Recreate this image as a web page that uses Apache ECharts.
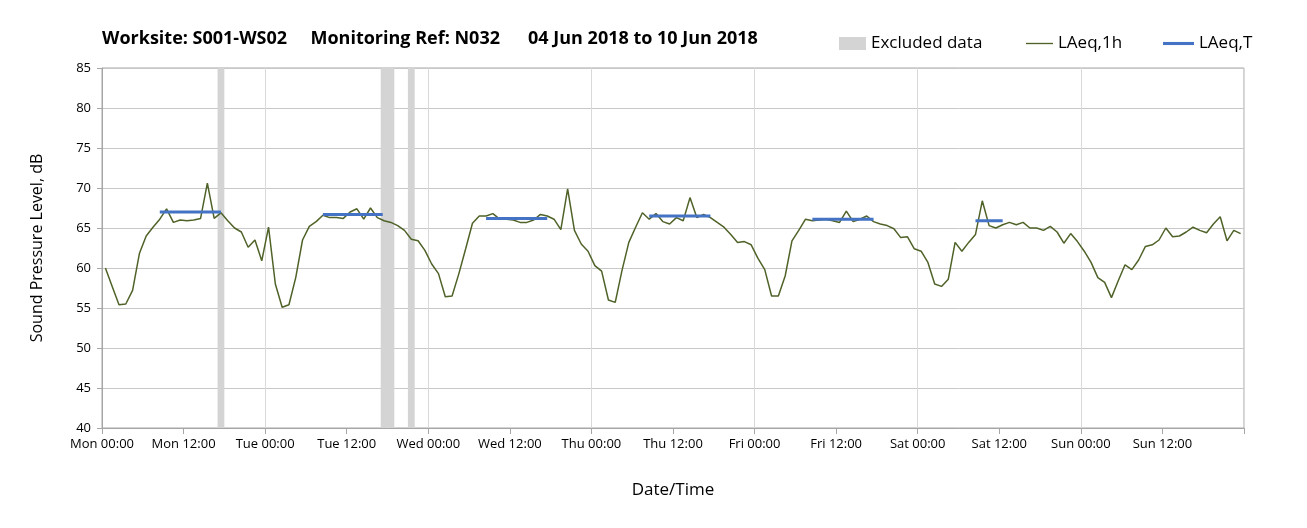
<!DOCTYPE html>
<html>
<head>
<meta charset="utf-8">
<script src="https://cdn.jsdelivr.net/npm/echarts@6/dist/echarts.min.js"></script>
<style>
  html, body { margin: 0; padding: 0; background: #fff; }
  #chart { width: 1307px; height: 528px; }
</style>
</head>
<body>
<div id="chart"></div>
<script>
// hourly LAeq,1h values, Mon 00:00 .. Sun 23:00 (plotted at mid-hour)
const laeq1h = [
  60.0, 57.7, 55.4, 55.5, 57.2, 61.8, 64.0, 65.1, 66.1, 67.4, 65.7, 66.0,
  65.9, 66.0, 66.2, 70.6, 66.2, 66.9, 65.9, 65.0, 64.5, 62.6, 63.5, 60.9,
  65.1, 58.0, 55.1, 55.4, 58.8, 63.5, 65.2, 65.8, 66.6, 66.3, 66.3, 66.2,
  67.0, 67.4, 66.1, 67.5, 66.3, 65.9, 65.7, 65.3, 64.7, 63.6, 63.4, 62.2,
  60.5, 59.3, 56.4, 56.5, 59.3, 62.4, 65.6, 66.5, 66.5, 66.8, 66.1, 66.1,
  66.0, 65.7, 65.7, 66.0, 66.7, 66.5, 66.1, 64.8, 69.9, 64.7, 63.0, 62.1,
  60.3, 59.6, 56.0, 55.7, 59.7, 63.2, 65.1, 66.9, 66.1, 66.8, 65.8, 65.5,
  66.3, 65.9, 68.8, 66.3, 66.7, 66.3, 65.7, 65.1, 64.2, 63.2, 63.3, 62.9,
  61.2, 59.8, 56.5, 56.5, 59.0, 63.4, 64.7, 66.1, 65.9, 66.0, 66.1, 65.9,
  65.7, 67.1, 65.8, 66.1, 66.5, 65.8, 65.5, 65.3, 64.9, 63.8, 63.9, 62.4,
  62.1, 60.7, 58.0, 57.7, 58.6, 63.2, 62.1, 63.2, 64.2, 68.4, 65.3, 65.0,
  65.4, 65.7, 65.4, 65.7, 65.0, 65.0, 64.7, 65.2, 64.5, 63.1, 64.3, 63.3,
  62.1, 60.7, 58.8, 58.2, 56.3, 58.4, 60.4, 59.8, 61.0, 62.7, 62.9, 63.5,
  65.0, 63.9, 64.0, 64.5, 65.1, 64.7, 64.4, 65.5, 66.4, 63.4, 64.7, 64.3
];

// LAeq,T periods (hours from Mon 00:00)
const ltStart = [8.5, 32.5, 56.5, 80.5, 104.5, 128.5];
const ltEnd = [17.5, 41.3, 65.5, 89.5, 113.5, 132.5];
const ltValue = [67.0, 66.7, 66.2, 66.5, 66.1, 65.9];

// excluded data periods (hours from Mon 00:00)
const exclStart = [17, 41, 45];
const exclEnd = [18, 43, 46];

const dayNames = ['Mon', 'Tue', 'Wed', 'Thu', 'Fri', 'Sat', 'Sun'];

const font = 'Open Sans';
const thinIcon = 'path://M0,0 L40,0 L40,2 L0,2 Z';
const thickIcon = 'path://M0,0 L40,0 L40,4 L0,4 Z';

const lineData = laeq1h.map((v, i) => [i + 0.5, v]);
const ltData = [];
ltStart.forEach((s, k) => {
  ltData.push([s, ltValue[k]]);
  ltData.push([ltEnd[k], ltValue[k]]);
  ltData.push([ltEnd[k], '-']);
});
const exclAreas = exclStart.map((s, k) => [{ xAxis: s }, { xAxis: exclEnd[k] }]);

function legendAt(left, item, w) {
  return {
    left: left,
    top: 30,
    itemWidth: w,
    itemHeight: 13,
    textStyle: { fontFamily: font, fontSize: 17, color: '#000' },
    data: [item]
  }
}

const chart = echarts.init(document.getElementById('chart'));
chart.setOption({
  animation: false,
  textStyle: { fontFamily: font },
  title: {
    text: 'Worksite: S001-WS02     Monitoring Ref: N032      04 Jun 2018 to 10 Jun 2018',
    left: 97,
    top: 25,
    textStyle: { fontFamily: font, fontSize: 18, fontWeight: 'bold', color: '#000' }
  },
  legend: [
    legendAt(834, { name: 'Excluded data', icon: 'rect', itemStyle: { color: '#d4d4d4' } }, 27),
    legendAt(1021, { name: 'LAeq,1h', icon: thinIcon }, 27),
    legendAt(1158, { name: 'LAeq,T', icon: thickIcon }, 31)
  ],
  grid: {
    left: 102,
    right: 63,
    top: 68,
    bottom: 100,
    show: true,
    borderColor: '#a6a6a6',
    borderWidth: 1,
    containLabel: false
  },
  xAxis: [
    {
      type: 'value',
      min: 0,
      max: 168,
      interval: 12,
      name: 'Date/Time',
      nameLocation: 'middle',
      nameGap: 54,
      nameTextStyle: { fontFamily: font, fontSize: 17, color: '#000' },
      axisLine: { lineStyle: { color: '#a6a6a6' } },
      axisTick: { show: true, length: 6, lineStyle: { color: '#a6a6a6' } },
      splitLine: { show: false },
      axisLabel: {
        fontFamily: font,
        fontSize: 13,
        color: '#000',
        margin: 10,
        formatter: v => {
          if (v >= 168) return '';
          return dayNames[Math.floor(v / 24)] + ' ' + (v % 24 === 0 ? '00:00' : '12:00');
        }
      }
    },
    {
      type: 'value',
      min: 0,
      max: 168,
      interval: 24,
      position: 'bottom',
      axisLine: { show: false },
      axisTick: { show: false },
      axisLabel: { show: false },
      splitLine: { show: true, lineStyle: { color: '#d9d9d9', width: 1 } }
    }
  ],
  yAxis: {
    type: 'value',
    min: 40,
    max: 85,
    interval: 5,
    name: 'Sound Pressure Level, dB',
    nameLocation: 'middle',
    nameGap: 57,
    nameTextStyle: { fontFamily: font, fontSize: 16, color: '#000' },
    axisLine: { show: true, lineStyle: { color: '#a6a6a6' } },
    axisTick: { show: true, length: 5, lineStyle: { color: '#a6a6a6' } },
    axisLabel: { fontFamily: font, fontSize: 13, color: '#000', margin: 11 },
    splitLine: { show: true, lineStyle: { color: '#c8c8c8', width: 1 } }
  },
  series: [
    {
      name: 'Excluded data',
      type: 'line',
      data: [],
      itemStyle: { color: '#d4d4d4' },
      markArea: {
        silent: true,
        itemStyle: { color: '#d4d4d4' },
        data: exclAreas
      }
    },
    {
      name: 'LAeq,1h',
      type: 'line',
      data: lineData,
      symbol: 'none',
      lineStyle: { color: '#4f6228', width: 1.5 },
      itemStyle: { color: '#4f6228' },
      z: 3
    },
    {
      name: 'LAeq,T',
      type: 'line',
      data: ltData,
      symbol: 'none',
      connectNulls: false,
      lineStyle: { color: '#4472c4', width: 3 },
      itemStyle: { color: '#4472c4' },
      z: 4
    }
  ]
});
</script>
</body>
</html>
